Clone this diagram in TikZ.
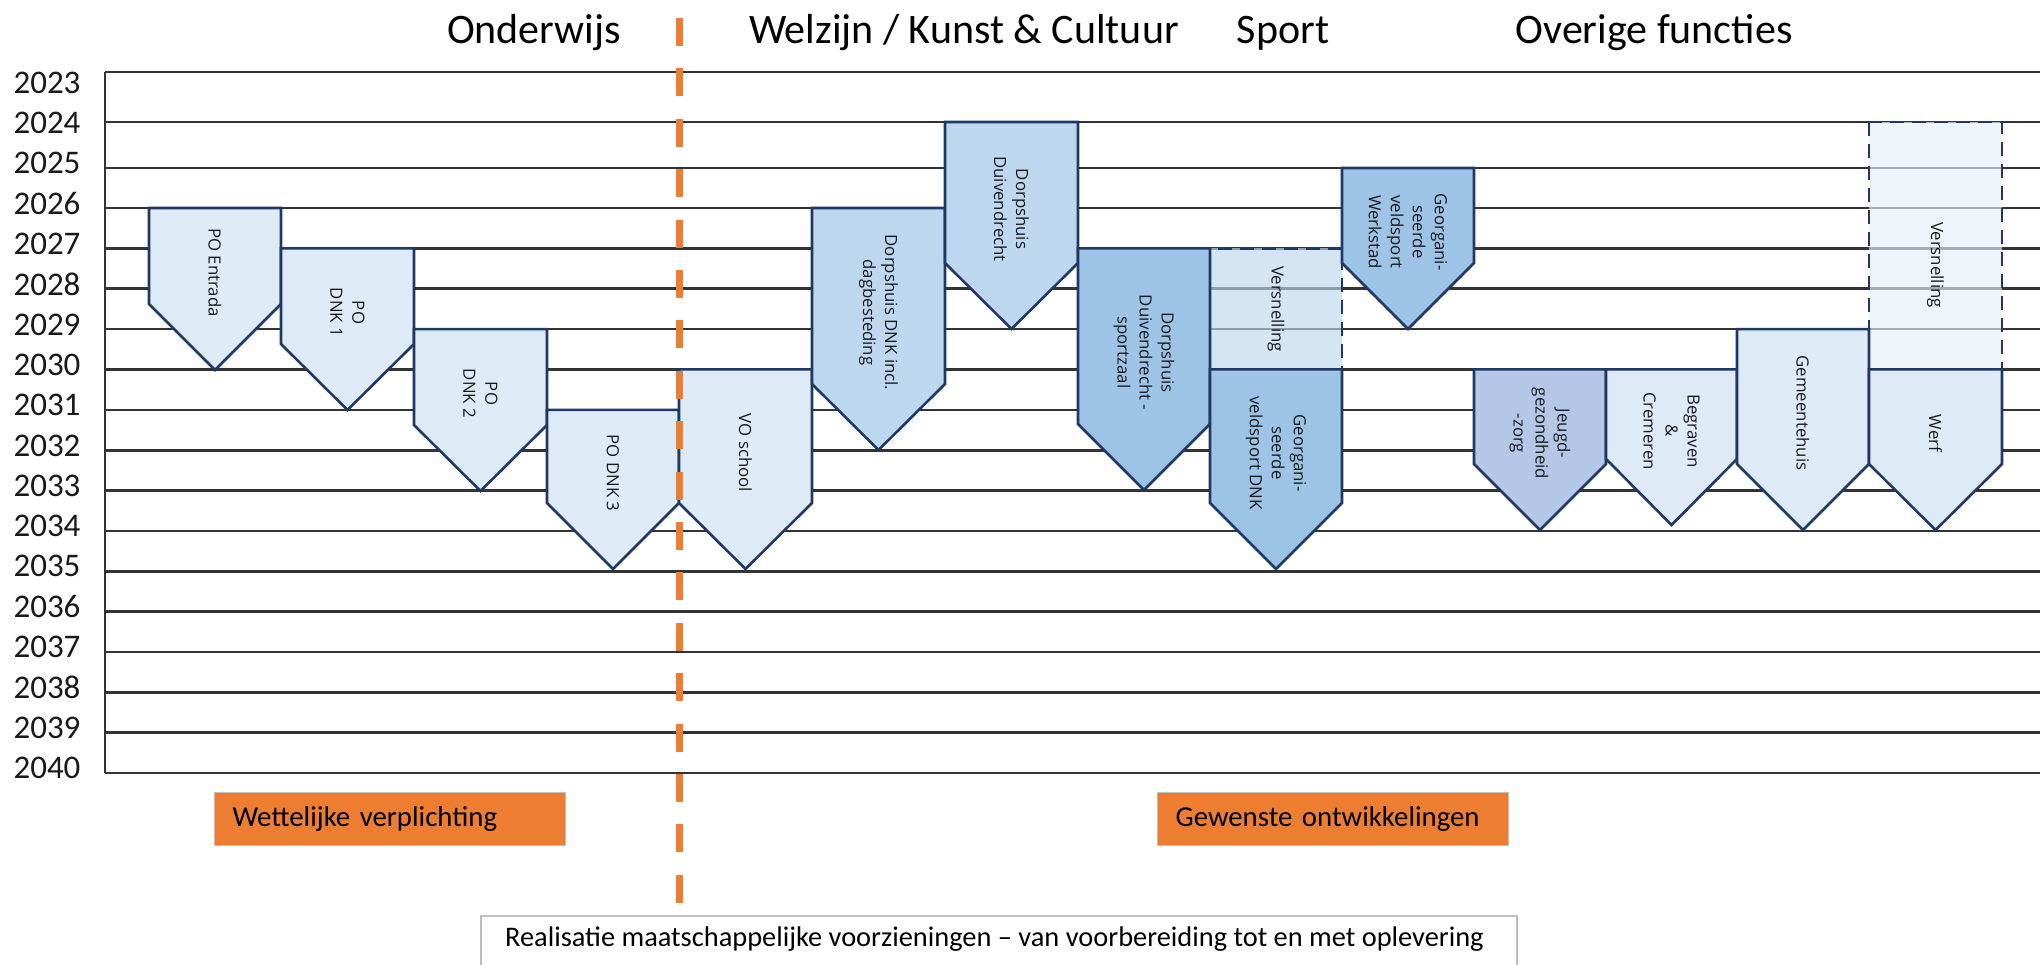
\documentclass[tikz,border=0pt]{standalone}
\usepackage{fontspec}
\setmainfont{Carlito}
\newfontfamily\vormfont{Open Sans}
\usepackage{xcolor}
\usepackage{tikz}
\definecolor{rand}{HTML}{1F3864}
\definecolor{lichtblauw}{HTML}{DEEBF7}
\definecolor{middelblauw}{HTML}{BDD7EE}
\definecolor{donkerblauw}{HTML}{9DC3E6}
\definecolor{paarsblauw}{HTML}{B4C7E7}
\definecolor{versnelblauw}{HTML}{E4EEF8}
\definecolor{oranje}{HTML}{ED7D31}
\tikzstyle{vorm} = [draw=rand, line width=1.3pt]
\tikzstyle{licht} = [vorm, fill=lichtblauw]
\tikzstyle{middel} = [vorm, fill=middelblauw]
\tikzstyle{donker} = [vorm, fill=donkerblauw]
\tikzstyle{paars} = [vorm, fill=paarsblauw]
\tikzstyle{versnelling} = [draw=rand, line width=1.3pt, dash pattern=on 7pt off 4pt, fill opacity=0.65]
\tikzstyle{tekst} = [rotate=-90, align=center, inner sep=0pt,
font=\vormfont\fontsize{8.4}{11}\selectfont,
text=black!90]
\tikzstyle{jaar} = [font=\fontsize{16.5}{18}\selectfont, text=black!90]
\tikzstyle{jaarlijn} = [line width=1.3pt, black!80]
\tikzstyle{kop} = [anchor=base, font=\fontsize{21}{24}\selectfont]
\tikzstyle{scheiding} = [oranje, line width=3.5pt, dash pattern=on 14pt off 11.2pt]
\tikzstyle{legenda} = [rectangle, anchor=north west,
minimum height=26.5pt,
text width=157.5pt,
inner xsep=9pt,
align=left,
draw=black!25,
line width=0.6pt,
fill=oranje,
font=\fontsize{14.4}{16}\selectfont]
\tikzstyle{kader} = [draw=black!25, line width=0.8pt, fill=white]

\begin{document}
\begin{tikzpicture}[x=0.5pt,y=-0.5pt]
				\useasboundingbox (0,0) rectangle (2040,964);

				\node[kop] (onderwijs) at (534,43) {Onderwijs};
				\node[kop] (welzijn) at (964,43) {Welzijn / Kunst \& Cultuur};
				\node[kop] (sport) at (1283,43) {Sport};
				\node[kop] (overig) at (1654,43) {Overige functies};

				\draw[jaarlijn] (105,72) -- (2040,72);
				\draw[jaarlijn] (105,122) -- (2040,122);
				\draw[jaarlijn] (105,168) -- (2040,168);
				\draw[jaarlijn] (105,208) -- (2040,208);
				\draw[jaarlijn] (105,248.4) -- (2040,248.4);
				\draw[jaarlijn] (105,288.7) -- (2040,288.7);
				\draw[jaarlijn] (105,329.1) -- (2040,329.1);
				\draw[jaarlijn] (105,369.4) -- (2040,369.4);
				\draw[jaarlijn] (105,409.8) -- (2040,409.8);
				\draw[jaarlijn] (105,450.2) -- (2040,450.2);
				\draw[jaarlijn] (105,490.5) -- (2040,490.5);
				\draw[jaarlijn] (105,530.9) -- (2040,530.9);
				\draw[jaarlijn] (105,571.3) -- (2040,571.3);
				\draw[jaarlijn] (105,611.6) -- (2040,611.6);
				\draw[jaarlijn] (105,652) -- (2040,652);
				\draw[jaarlijn] (105,692.4) -- (2040,692.4);
				\draw[jaarlijn] (105,732.7) -- (2040,732.7);
				\draw[jaarlijn] (105,773) -- (2040,773);
				\draw[jaarlijn] (105,72) -- (105,773);

				\node[jaar] (j2023) at (47,82.5) {2023};
				\node[jaar] (j2024) at (47,122.8) {2024};
				\node[jaar] (j2025) at (47,163.1) {2025};
				\node[jaar] (j2026) at (47,203.5) {2026};
				\node[jaar] (j2027) at (47,243.8) {2027};
				\node[jaar] (j2028) at (47,284.1) {2028};
				\node[jaar] (j2029) at (47,324.4) {2029};
				\node[jaar] (j2030) at (47,364.7) {2030};
				\node[jaar] (j2031) at (47,405.1) {2031};
				\node[jaar] (j2032) at (47,445.4) {2032};
				\node[jaar] (j2033) at (47,485.7) {2033};
				\node[jaar] (j2034) at (47,526) {2034};
				\node[jaar] (j2035) at (47,566.3) {2035};
				\node[jaar] (j2036) at (47,606.7) {2036};
				\node[jaar] (j2037) at (47,647) {2037};
				\node[jaar] (j2038) at (47,687.3) {2038};
				\node[jaar] (j2039) at (47,727.6) {2039};
				\node[jaar] (j2040) at (47,768) {2040};

				\draw[versnelling, fill=middelblauw] (1210,248.4) rectangle (1342,369.4);
				\draw[versnelling, fill=versnelblauw] (1869,122) rectangle (2002,369.4);

				\draw[licht] (149,208) -- (281,208) -- (281,304) -- (215,370) -- (149,304) -- cycle;
				\draw[licht] (281,248.4) -- (414,248.4) -- (414,344) -- (347.5,410) -- (281,344) -- cycle;
				\draw[licht] (414,329.1) -- (547,329.1) -- (547,425) -- (480.5,491) -- (414,425) -- cycle;
				\draw[licht] (547,409.8) -- (679,409.8) -- (679,503) -- (613,569) -- (547,503) -- cycle;
				\draw[licht] (679,369.4) -- (812,369.4) -- (812,503) -- (745.5,569) -- (679,503) -- cycle;
				\draw[middel] (812,208) -- (945,208) -- (945,384) -- (878.5,450) -- (812,384) -- cycle;
				\draw[middel] (945,122) -- (1078,122) -- (1078,263) -- (1011.5,329) -- (945,263) -- cycle;
				\draw[donker] (1078,248.4) -- (1210,248.4) -- (1210,424) -- (1144,490) -- (1078,424) -- cycle;
				\draw[donker] (1210,369.4) -- (1342,369.4) -- (1342,503) -- (1276,569) -- (1210,503) -- cycle;
				\draw[donker] (1342,168) -- (1474,168) -- (1474,263) -- (1408,329) -- (1342,263) -- cycle;
				\draw[paars] (1474,369.4) -- (1606,369.4) -- (1606,464) -- (1540,530) -- (1474,464) -- cycle;
				\draw[licht] (1606,369.4) -- (1737,369.4) -- (1737,459) -- (1671.5,525) -- (1606,459) -- cycle;
				\draw[licht] (1737,329.1) -- (1869,329.1) -- (1869,464) -- (1803,530) -- (1737,464) -- cycle;
				\draw[licht] (1869,369.4) -- (2002,369.4) -- (2002,464) -- (1935.5,530) -- (1869,464) -- cycle;

				\node[tekst] (po-entrada) at (215,272.5) {PO Entrada};
				\node[tekst] (po-dnk1) at (347.5,312.5) {PO\\DNK 1};
				\node[tekst] (po-dnk2) at (480.5,393.5) {PO\\DNK 2};
				\node[tekst] (po-dnk3) at (613,473) {PO DNK 3};
				\node[tekst] (vo) at (745.5,453) {VO school};
				\node[tekst] (dh-dnk) at (878.5,312.5) {Dorpshuis DNK incl.\\dagbesteding};
				\node[tekst] (dh-duiv) at (1011.5,209) {Dorpshuis\\Duivendrecht};
				\node[tekst] (dh-sport) at (1144,352.5) {Dorpshuis\\Duivendrecht -\\sportzaal};
				\node[tekst] (versn-sport) at (1276,309) {Versnelling};
				\node[tekst] (veld-dnk) at (1276,453) {Georgani-\\seerde\\veldsport DNK};
				\node[tekst] (veld-werk) at (1408,232) {Georgani-\\seerde\\veldsport\\Werkstad};
				\node[tekst] (jeugd) at (1540,433.5) {Jeugd-\\gezondheid\\-zorg};
				\node[tekst] (begraven) at (1671.5,431) {Begraven\\\&\\Cremeren};
				\node[tekst] (gemeente) at (1803,413) {Gemeentehuis};
				\node[tekst] (versn-werf) at (1935.5,265) {Versnelling};
				\node[tekst] (werf) at (1935.5,433.5) {Werf};

				\draw[scheiding] (679,18) -- (679,903);

				\node[legenda] (wettelijk) at (214,792) {Wettelijke verplichting};
				\node[legenda] (gewenst) at (1157,792) {Gewenste ontwikkelingen};

				\draw[kader] (481,916) rectangle (1517,1000);
				\node[anchor=base west, font=\fontsize{14.2}{16}\selectfont] (realisatie) at (498,946) {Realisatie maatschappelijke voorzieningen – van voorbereiding tot en met oplevering};
			\end{tikzpicture}
\end{document}
